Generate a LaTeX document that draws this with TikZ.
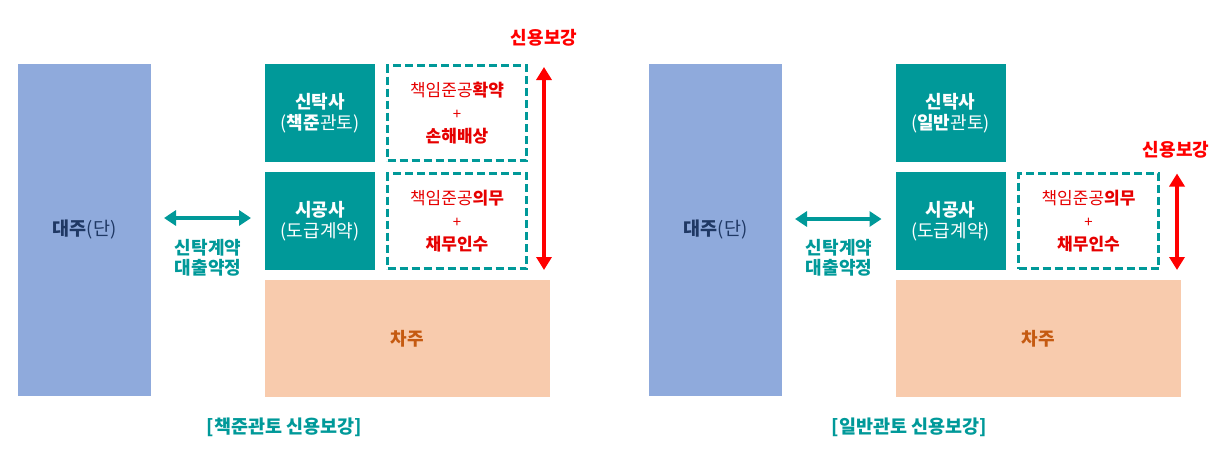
\documentclass[tikz,border=0pt]{standalone}
\usepackage{fontspec}
\setmainfont{Noto Sans CJK KR}
\usetikzlibrary{arrows.meta,positioning}
\definecolor{lenderblue}{HTML}{8FAADC}
\definecolor{trustteal}{HTML}{009999}
\definecolor{borrowpeach}{HTML}{F8CBAD}
\definecolor{navytext}{HTML}{1F3864}
\definecolor{borrowtext}{HTML}{C55A11}
\definecolor{dutyred}{HTML}{E60000}
\definecolor{boostred}{HTML}{FF0000}
\tikzset{
  block/.style={inner sep=0pt, outer sep=0pt, align=center},
  lender/.style={block, fill=lenderblue, minimum width=133pt, minimum height=332pt, text=navytext, font=\fontsize{18.5}{21}\selectfont},
  party/.style={block, fill=trustteal, minimum width=110pt, minimum height=98pt, text=white, font=\fontsize{18}{21}\selectfont},
  duty/.style={block, draw=trustteal, line width=3pt, dash pattern=on 8pt off 4pt, minimum width=139pt, minimum height=95pt, text=dutyred, font=\fontsize{17}{23}\selectfont},
  borrower/.style={block, fill=borrowpeach, minimum width=285pt, minimum height=117pt, text=borrowtext, font=\bfseries\fontsize{18}{21}\selectfont},
  biarrow/.style={{Triangle[width=15pt,length=12pt]}-{Triangle[width=15pt,length=12pt]}, line width=4pt, trustteal},
  boost/.style={{Triangle[width=15pt,length=13pt]}-{Triangle[width=15pt,length=13pt]}, line width=4pt, boostred},
  contract/.style={inner sep=0pt, align=center, text=trustteal, font=\bfseries\fontsize{18}{20.5}\selectfont},
  boostlabel/.style={inner sep=0pt, text=boostred, font=\bfseries\fontsize{18}{20}\selectfont},
  caption/.style={inner sep=0pt, text=trustteal, font=\bfseries\fontsize{18.5}{20}\selectfont}
}
\newcommand{\plus}{{\fontsize{15}{23}\selectfont +}}
\begin{document}
\begin{tikzpicture}[x=1pt, y=-1pt]
    \useasboundingbox (0,0) rectangle (1221,455);

    % Left: 책준관토
    \node[lender] (lenderL) at (84.5,230) {\textbf{대주}(단)};
    \node[party] (trustL) at (320,113) {\textbf{신탁사}\\(\textbf{책준}관토)};
    \node[party, below=10pt of trustL] (buildL) {\textbf{시공사}\\(도급계약)};
    \node[duty, right=12.5pt of trustL] (dutyTL) {책임준공\textbf{확약}\\\plus\\\textbf{손해배상}};
    \node[duty, right=12.5pt of buildL] (dutyBL) {책임준공\textbf{의무}\\\plus\\\textbf{채무인수}};
    \node[borrower, below right=10pt and 0pt of buildL.south west] (borrowL) {차주};

    \draw[biarrow] ([xshift=13pt,yshift=3pt]lenderL.east |- buildL.west) -- ([xshift=-14pt,yshift=3pt]buildL.west);
    \node[contract] (contractL) at (208,258) {신탁계약\\대출약정};

    \draw[boost] ([xshift=17.5pt,yshift=-1.5pt]dutyTL.north east) -- ([xshift=17.5pt,yshift=-1.5pt]dutyBL.south east);
    \node[boostlabel] (boostL) at (544,38) {신용보강};

    \node[caption] (captionL) at (284.5,427) {[책준관토 신용보강]};

    % Right: 일반관토
    \node[lender] (lenderR) at (715.5,230) {\textbf{대주}(단)};
    \node[party] (trustR) at (950.5,113) {\textbf{신탁사}\\(\textbf{일반}관토)};
    \node[party, below=10pt of trustR] (buildR) {\textbf{시공사}\\(도급계약)};
    \node[duty, minimum width=140pt, right=13pt of buildR] (dutyR) {책임준공\textbf{의무}\\\plus\\\textbf{채무인수}};
    \node[borrower, below right=10pt and 0pt of buildR.south west] (borrowR) {차주};

    \draw[biarrow] ([xshift=13pt,yshift=2pt]lenderR.east |- buildR.west) -- ([xshift=-14pt,yshift=2pt]buildR.west);
    \node[contract] (contractR) at (839,258) {신탁계약\\대출약정};

    \draw[boost] ([xshift=18.5pt]dutyR.north east) -- ([xshift=18.5pt,yshift=-1.5pt]dutyR.south east);
    \node[boostlabel] (boostR) at (1176,150) {신용보강};

    \node[caption] (captionR) at (909.5,427) {[일반관토 신용보강]};
\end{tikzpicture}
\end{document}
